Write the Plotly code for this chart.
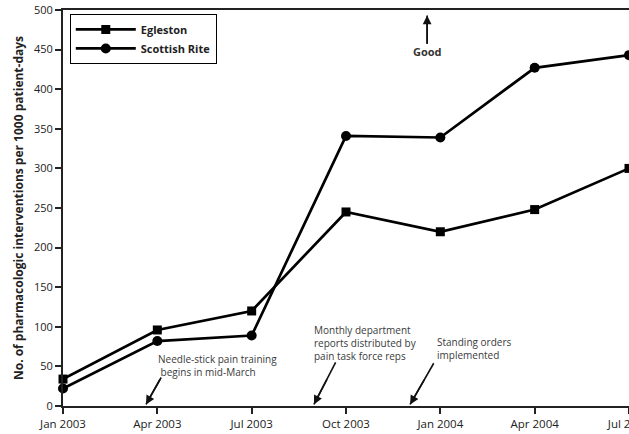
import math
import plotly.graph_objects as go

quarters = ["Jan 2003", "Apr 2003", "Jul 2003", "Oct 2003", "Jan 2004", "Apr 2004", "Jul 2004"]
egleston = [34, 96, 120, 245, 220, 248, 300]
scottish_rite = [22, 82, 89, 341, 339, 427, 443]

xi = list(range(len(quarters)))
FONT = "Open Sans"

W, H = 629, 434
ML, MR, MT, MB = 63, 0, 10, 28
XR, YR = (0, 6), (0, 500)
pxx = (W - ML - MR) / (XR[1] - XR[0])
pxy = (H - MT - MB) / (YR[1] - YR[0])

fig = go.Figure()
fig.add_trace(go.Scatter(x=xi, y=egleston, name="Egleston", mode="lines+markers",
                         line=dict(color="black", width=2.7),
                         marker=dict(symbol="square", size=9, color="black"),
                         cliponaxis=False))
fig.add_trace(go.Scatter(x=xi, y=scottish_rite, name="Scottish Rite", mode="lines+markers",
                         line=dict(color="black", width=2.7),
                         marker=dict(symbol="circle", size=10, color="black"),
                         cliponaxis=False))

ann_font = dict(family=FONT, size=10, color="#3a3a3a")

# (tail x, tail y, tip x, tip y) in data units
arrows = [
    (3.86, 458, 3.86, 493),
    (1.04, 36, 0.88, 2),
    (2.89, 55, 2.66, 2),
    (3.93, 54, 3.68, 2),
]

annotations = [
    dict(x=3.86, y=447, text="<b>Good</b>", showarrow=False, font=dict(family=FONT, size=11, color="#333"),
         xref="x", yref="y"),
    dict(x=1.64, y=51, text="Needle-stick pain training<br> begins in mid-March", showarrow=False,
         font=ann_font, xref="x", yref="y", align="left"),
    dict(x=2.64, y=80, text="Monthly department<br>reports distributed by<br>pain task force reps",
         showarrow=False, font=ann_font, xref="x", yref="y", xanchor="left", align="left"),
    dict(x=3.94, y=72, text="Standing orders<br>implemented", showarrow=False, font=ann_font,
         xref="x", yref="y", xanchor="left", align="left"),
]
shapes = []
for tx, ty, hx, hy in arrows:
    shapes.append(dict(type="line", xref="x", yref="y", x0=tx, y0=ty, x1=hx, y1=hy,
                       line=dict(color="#111", width=1.6)))
    dx = (tx - hx) * pxx
    dy = -(ty - hy) * pxy
    n = math.hypot(dx, dy)
    annotations.append(dict(x=hx, y=hy, xref="x", yref="y", ax=dx / n * 30, ay=dy / n * 30,
                            text="", showarrow=True, arrowhead=2, arrowsize=1.1,
                            arrowwidth=1.6, arrowcolor="#111"))

fig.update_layout(
    width=W, height=H,
    margin=dict(l=ML, r=MR, t=MT, b=MB, autoexpand=False),
    paper_bgcolor="white", plot_bgcolor="white",
    font=dict(family=FONT, size=11, color="#222"),
    showlegend=True,
    legend=dict(x=0.012, y=0.99, xanchor="left", yanchor="top",
                bordercolor="black", borderwidth=1, bgcolor="white",
                font=dict(family=FONT, size=11, color="#222", weight="bold"),
                itemwidth=60, tracegroupgap=0),
    annotations=annotations,
    shapes=shapes,
    xaxis=dict(range=list(XR), tickvals=xi, ticktext=quarters, showline=True, linecolor="#222",
               linewidth=2, mirror=True, ticks="outside", ticklen=6, tickwidth=1.5, tickcolor="#222",
               showgrid=False, zeroline=False, ticklabeloverflow="allow", automargin=False,
               tickfont=dict(family=FONT, size=11.5, color="#222")),
    yaxis=dict(range=list(YR), dtick=50, showline=True, linecolor="#222", linewidth=2,
               ticks="outside", ticklen=6, tickwidth=1.5, tickcolor="#222", showgrid=False,
               zeroline=False, automargin=False, tickfont=dict(family=FONT, size=11, color="#222"),
               title=dict(text="<b>No. of pharmacologic interventions per 1000 patient-days</b>",
                          font=dict(family=FONT, size=12, color="#222"), standoff=8)),
)

fig.write_html("out.html")
